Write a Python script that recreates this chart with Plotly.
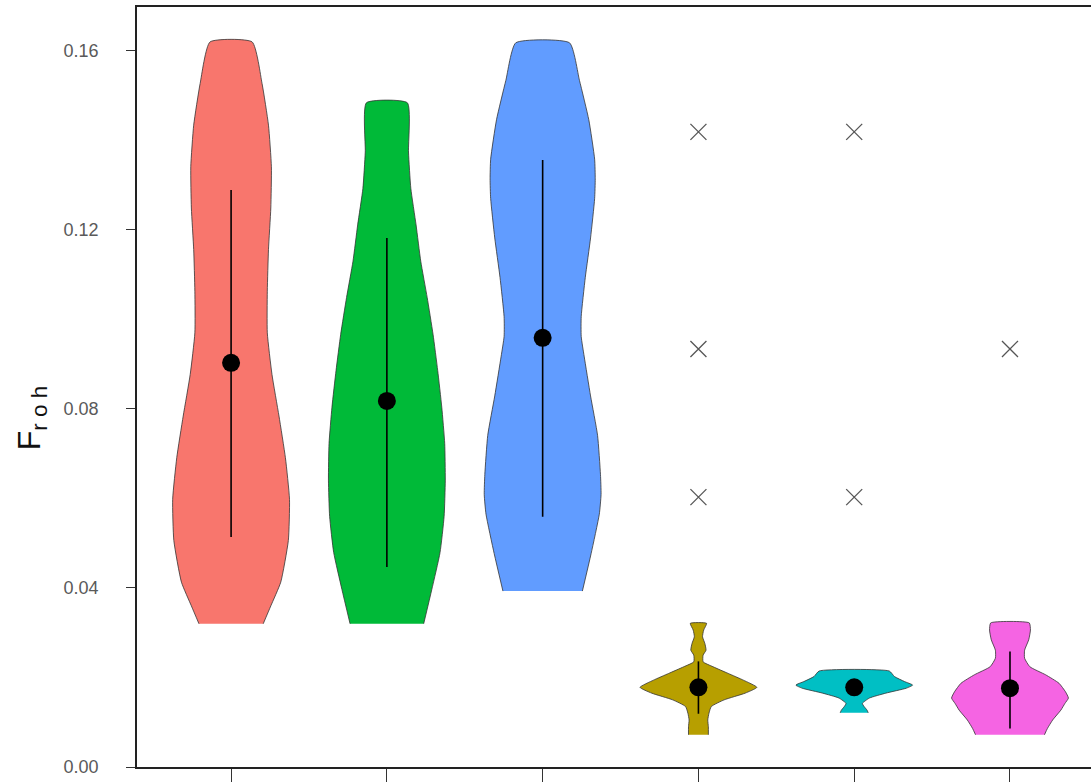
import plotly.graph_objects as go

# group positions on the x axis (labels are hidden in the original)
groups = [0, 1, 2, 3, 4, 5]
colors = ["#F8766D", "#00BA38", "#619CFF", "#B79F00", "#00BFC4", "#F564E3"]

# violin density profiles: y level and relative half width (1 = widest)
red_y = [0.032, 0.036, 0.0413, 0.0506, 0.0598, 0.0691, 0.0784, 0.0877, 0.097,
         0.1063, 0.1156, 0.1249, 0.1341, 0.1434, 0.1527, 0.162]
red_w = [0.55, 0.68, 0.85, 0.98, 1.0, 0.93, 0.82, 0.70, 0.62, 0.62, 0.64, 0.68,
         0.69, 0.64, 0.53, 0.36]

green_y = [0.032, 0.0397, 0.0479, 0.056, 0.0641, 0.0723, 0.0804, 0.0886, 0.0967,
           0.1049, 0.113, 0.1211, 0.1293, 0.1374, 0.1484]
green_w = [0.63, 0.77, 0.91, 0.98, 1.0, 0.99, 0.94, 0.87, 0.79, 0.69, 0.58,
           0.50, 0.41, 0.37, 0.35]

blue_y = [0.0393, 0.0477, 0.0565, 0.0609, 0.0653, 0.0741, 0.0829, 0.0918, 0.0962,
          0.1006, 0.1094, 0.1182, 0.127, 0.1314, 0.1358, 0.1446, 0.1534, 0.1618]
blue_w = [0.68, 0.83, 0.97, 1.0, 0.99, 0.94, 0.82, 0.71, 0.66, 0.66, 0.73, 0.82,
          0.89, 0.90, 0.89, 0.79, 0.63, 0.46]

gold_y = [0.0072, 0.009, 0.0105, 0.012, 0.0135, 0.015, 0.0165, 0.0178, 0.0194,
          0.0209, 0.0224, 0.0235, 0.025, 0.0261, 0.0276, 0.0291, 0.0306, 0.0321]
gold_w = [0.17, 0.17, 0.16, 0.18, 0.22, 0.44, 0.80, 1.0, 0.77, 0.51, 0.25, 0.08,
          0.08, 0.13, 0.11, 0.07, 0.09, 0.14]

cyan_y = [0.0121, 0.0127, 0.0135, 0.0142, 0.0154, 0.0165, 0.0176, 0.0183, 0.0191,
          0.0202, 0.02145]
cyan_w = [0.24, 0.22, 0.17, 0.14, 0.26, 0.54, 0.89, 1.0, 0.86, 0.69, 0.60]

pink_y = [0.0072, 0.0086, 0.0105, 0.0127, 0.0142, 0.0154, 0.0168, 0.0187, 0.0206,
          0.0224, 0.0243, 0.0261, 0.0284, 0.0306, 0.0322]
pink_w = [0.59, 0.64, 0.73, 0.87, 0.94, 1.0, 0.95, 0.84, 0.61, 0.34, 0.25, 0.25,
          0.32, 0.35, 0.33]

profiles = [(red_y, red_w), (green_y, green_w), (blue_y, blue_w),
            (gold_y, gold_w), (cyan_y, cyan_w), (pink_y, pink_w)]

# mean with lower / upper whisker
means = [0.0903, 0.0818, 0.0959, 0.0178, 0.0178, 0.0176]
lows = [0.0514, 0.0447, 0.0559, 0.0119, 0.0163, 0.0086]
highs = [0.1289, 0.1182, 0.1356, 0.0236, 0.0195, 0.0258]

# outlying points drawn as crosses
out_x = [3, 3, 3, 4, 4, 5]
out_y = [0.1419, 0.0934, 0.0603, 0.1419, 0.0603, 0.0934]

half_width = 0.375

fig = go.Figure()

for pos, (py, pw), col in zip(groups, profiles, colors):
    # left edge bottom->top, then right edge top->bottom
    xs = [pos - half_width * w for w in pw] + [pos + half_width * w for w in reversed(pw)]
    ys = list(py) + list(reversed(py))
    fig.add_trace(go.Scatter(x=xs, y=ys, fill='toself', fillcolor=col,
                             mode='lines', line=dict(color='#333333', width=0.8, shape='spline', smoothing=0.5),
                             hoverinfo='skip', showlegend=False))

fig.add_trace(go.Scatter(x=groups, y=means, mode='markers',
                         marker=dict(color='black', size=18),
                         error_y=dict(type='data', symmetric=False,
                                      array=[h - m for h, m in zip(highs, means)],
                                      arrayminus=[m - l for m, l in zip(means, lows)],
                                      color='black', thickness=1.6, width=0),
                         showlegend=False))

fig.add_trace(go.Scatter(x=out_x, y=out_y, mode='markers',
                         marker=dict(symbol='x-thin', size=16, line=dict(color='#555555', width=1.3)),
                         showlegend=False))

fig.update_xaxes(range=[-0.604, 5.52], tickvals=groups, showticklabels=False,
                 ticks='outside', ticklen=13, tickcolor='#333333', tickwidth=1.2,
                 showline=True, linecolor='#222222', linewidth=1.5, mirror=True,
                 showgrid=False, zeroline=False)

fig.update_yaxes(range=[0, 0.1698], tickvals=[0, 0.04, 0.08, 0.12, 0.16], tickformat='.2f',
                 ticks='outside', ticklen=9, tickcolor='#333333', tickwidth=1.2,
                 tickfont=dict(family='Liberation Sans, Arial', size=18, color='#5a5a5a'),
                 ticklabelstandoff=24,
                 showline=True, linecolor='#222222', linewidth=1.5,
                 showgrid=False, zeroline=False)

# y axis title F_roh, placed by hand like the original
fig.add_annotation(text='F<sub>r o h</sub>', textangle=-90, showarrow=False,
                   xref='paper', yref='paper', x=-0.111, y=0.459,
                   xanchor='center', yanchor='middle',
                   font=dict(family='Liberation Sans, Arial', size=32, color='#111111'))

fig.update_layout(
    width=1091, height=782,
    margin=dict(l=137, r=0, t=7, b=15),
    plot_bgcolor='white', paper_bgcolor='white'
)

fig.write_html("out.html", config={'displayModeBar': False},
               post_script="document.body.style.margin='0';")
